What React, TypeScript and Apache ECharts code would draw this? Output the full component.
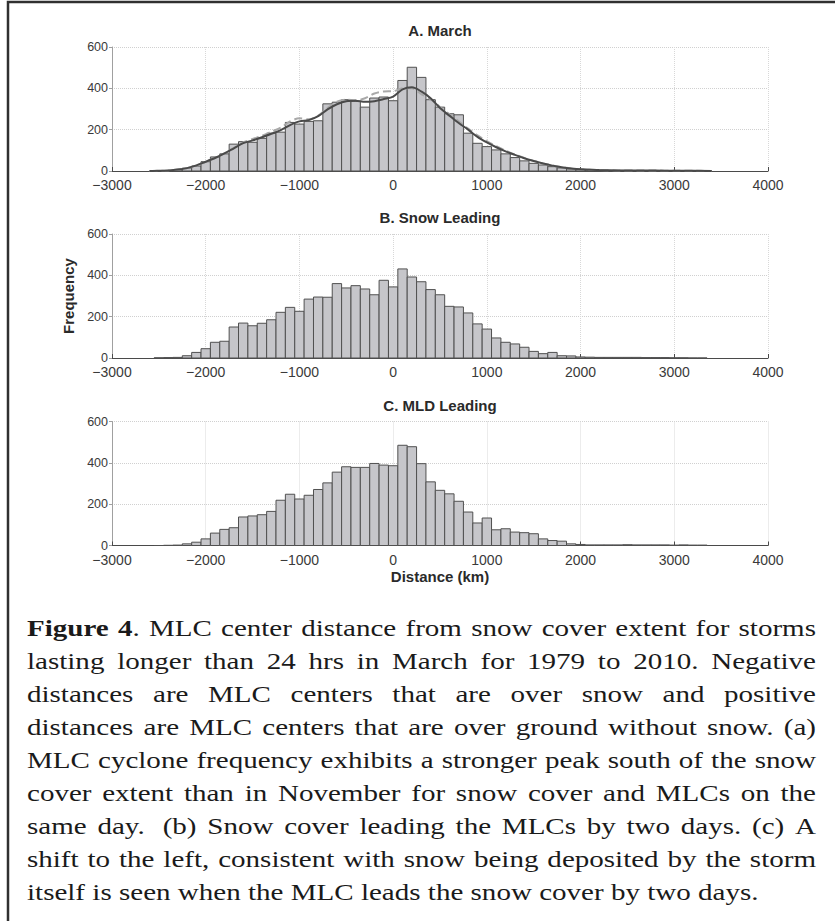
import React, { useEffect, useRef } from "react";
import * as echarts from "echarts";

// ---------- data ----------
const binWidth = 100;
const binCenters = [
  -2500, -2400, -2300, -2200, -2100, -2000, -1900, -1800, -1700, -1600,
  -1500, -1400, -1300, -1200, -1100, -1000, -900, -800, -700, -600,
  -500, -400, -300, -200, -100, 0, 100, 200, 300, 400,
  500, 600, 700, 800, 900, 1000, 1100, 1200, 1300, 1400,
  1500, 1600, 1700, 1800, 1900, 2000, 2100, 2200, 2300, 2400,
  2500, 2600, 2700, 2800, 2900, 3000, 3100, 3200, 3300,
];
const marchCounts = [
  1, 2, 5, 14, 24, 45, 68, 83, 130, 142,
  139, 158, 183, 188, 235, 227, 240, 243, 325, 333,
  345, 337, 309, 353, 358, 340, 438, 502, 453, 345,
  309, 277, 272, 183, 134, 118, 102, 83, 65, 49,
  37, 29, 21, 15, 10, 6, 5, 4, 3, 3,
  3, 2, 2, 2, 1, 1, 1, 0, 0,
];
const snowLeadingCounts = [
  1, 2, 3, 11, 27, 45, 76, 81, 150, 169,
  156, 168, 185, 221, 245, 226, 285, 295, 294, 360,
  339, 350, 334, 306, 376, 344, 431, 392, 369, 331,
  306, 250, 247, 218, 165, 140, 97, 76, 68, 52,
  32, 21, 27, 11, 10, 5, 4, 3, 3, 3,
  3, 3, 2, 2, 2, 1, 1, 0, 0,
];
const mldLeadingCounts = [
  0, 1, 2, 8, 16, 32, 60, 78, 86, 138,
  143, 149, 165, 219, 248, 225, 243, 271, 303, 355,
  381, 378, 378, 397, 389, 386, 485, 478, 396, 308,
  267, 250, 214, 162, 109, 133, 76, 81, 65, 62,
  57, 32, 24, 21, 8, 5, 3, 3, 3, 3,
  4, 3, 3, 3, 3, 2, 3, 2, 2,
];
const fitX = [
  -2600, -2500, -2400, -2300, -2200, -2100, -2000, -1900, -1800, -1700,
  -1600, -1500, -1400, -1300, -1200, -1100, -1000, -900, -800, -700,
  -600, -500, -400, -300, -200, -100, 0, 100, 200, 300,
  400, 500, 600, 700, 800, 900, 1000, 1100, 1200, 1300,
  1400, 1500, 1600, 1700, 1800, 1900, 2000, 2200, 2400, 2600,
  2800, 3000, 3200, 3400,
];
const fitSolid = [
  0, 1, 3, 7, 14, 27, 45, 63, 85, 110,
  135, 148, 163, 180, 198, 222, 240, 246, 265, 298,
  323, 338, 340, 335, 338, 348, 360, 395, 405, 385,
  352, 305, 268, 232, 200, 165, 138, 115, 95, 78,
  62, 48, 36, 26, 18, 12, 8, 5, 3, 2,
  2, 1, 1, 0,
];
const fitDashed = [
  0, 1, 3, 7, 14, 27, 45, 63, 85, 112,
  138, 155, 170, 190, 210, 240, 255, 250, 268, 305,
  335, 345, 342, 352, 375, 385, 386, 400, 400, 372,
  348, 310, 275, 240, 205, 172, 145, 120, 98, 80,
  63, 49, 37, 27, 19, 12, 8, 5, 3, 2,
  2, 1, 1, 0,
];
const panelTitles = ["A. March", "B. Snow Leading", "C. MLD Leading"];
const yLabel = "Frequency";
const xLabel = "Distance (km)";
const captionLines: { t: string; b?: boolean; join?: boolean }[][] = [
  [{ t: "Figure", b: true }, { t: "4", b: true }, { t: ".", join: true }, { t: "MLC" }, { t: "center" }, { t: "distance" }, { t: "from" }, { t: "snow" }, { t: "cover" }, { t: "extent" }, { t: "for" }, { t: "storms" }],
  "lasting longer than 24 hrs in March for 1979 to 2010. Negative".split(" ").map((t) => ({ t })),
  "distances are MLC centers that are over snow and positive".split(" ").map((t) => ({ t })),
  "distances are MLC centers that are over ground without snow. (a)".split(" ").map((t) => ({ t })),
  "MLC cyclone frequency exhibits a stronger peak south of the snow".split(" ").map((t) => ({ t })),
  "cover extent than in November for snow cover and MLCs on the".split(" ").map((t) => ({ t })),
  "same day.\u00a0 (b) Snow cover leading the MLCs by two days. (c) A".split(" ").map((t) => ({ t })),
  "shift to the left, consistent with snow being deposited by the storm".split(" ").map((t) => ({ t })),
  "itself is seen when the MLC leads the snow cover by two days.".split(" ").map((t) => ({ t })),
];

// ---------- layout ----------
const W = 835;
const H = 921;
const gridLeft = 112;
const gridWidth = 656;
const gridTops = [47, 234, 421.5];
const gridHeight = 124;
const sansFont = "Liberation Sans";
const serifFont = "Liberation Serif";

function buildCaption() {
  const fontSize = 24;
  const scaleX = 1.21;
  const left = 27;
  const right = 816;
  const baseline0 = 636;
  const lineStep = 33;
  const canvas = document.createElement("canvas");
  const ctx = canvas.getContext("2d")!;
  const measure = (t: string, b?: boolean) => {
    ctx.font = `${b ? "bold " : ""}${fontSize}px "Liberation Serif"`;
    return ctx.measureText(t).width * scaleX;
  };
  const spaceW = measure(" ");
  const els: any[] = [];
  captionLines.forEach((segs, li) => {
    const words: { segs: { t: string; b?: boolean; w: number }[]; w: number }[] = [];
    segs.forEach((s) => {
      const w = measure(s.t, s.b);
      if (s.join && words.length) {
        const last = words[words.length - 1];
        last.segs.push({ t: s.t, b: s.b, w });
        last.w += w;
      } else {
        words.push({ segs: [{ t: s.t, b: s.b, w }], w });
      }
    });
    const total = words.reduce((a, w) => a + w.w, 0);
    const isLast = li === captionLines.length - 1;
    const gap = isLast ? spaceW : (right - left - total) / (words.length - 1);
    let x = left;
    const y = baseline0 + li * lineStep - 8;
    words.forEach((wd) => {
      let sx = x;
      wd.segs.forEach((s) => {
        els.push({
          type: "text",
          x: sx,
          y,
          scaleX,
          silent: true,
          style: {
            text: s.t,
            fontSize,
            fontFamily: serifFont,
            fontWeight: s.b ? "bold" : "normal",
            fill: "#1a1a1a",
            textAlign: "left",
            textVerticalAlign: "middle",
          },
        });
        sx += s.w;
      });
      x += wd.w + gap;
    });
  });
  return els;
}

export default function App() {
  const ref = useRef<HTMLDivElement>(null);
  useEffect(() => {
    document.body.style.margin = "0";
    if (!ref.current) return;
    const chart = echarts.init(ref.current, undefined, { renderer: "svg" });
    const panels = [marchCounts, snowLeadingCounts, mldLeadingCounts];

    const grids = gridTops.map((top) => ({ left: gridLeft, top, width: gridWidth, height: gridHeight }));
    const xAxes = gridTops.map((_, i) => ({
      type: "value",
      gridIndex: i,
      min: -3000,
      max: 4000,
      interval: 1000,
      axisLine: { show: true, onZero: false, lineStyle: { color: "#4a4a4a", width: 1.2 } },
      axisTick: { show: true, inside: true, length: 4, lineStyle: { color: "#4a4a4a" } },
      axisLabel: {
        color: "#3a3a3a",
        fontSize: 14,
        fontFamily: sansFont,
        margin: 7,
        formatter: (v: number) => (v < 0 ? "\u2212" + Math.abs(v) : String(v)),
      },
      splitLine: { show: true, lineStyle: { color: "#d8d8d8", type: "dotted" } },
    }));
    const yAxes = gridTops.map((_, i) => ({
      type: "value",
      gridIndex: i,
      min: 0,
      max: 600,
      interval: 200,
      axisLine: { show: true, onZero: false, lineStyle: { color: "#a0a0a0", width: 1 } },
      axisTick: { show: true, inside: false, length: 3, lineStyle: { color: "#a0a0a0" } },
      axisLabel: { color: "#3a3a3a", fontSize: 12.5, fontFamily: sansFont, margin: 4 },
      splitLine: { show: true, lineStyle: { color: "#d0d0d0", type: "dotted" } },
    }));

    const series: any[] = panels.map((counts, i) => ({
      type: "custom",
      xAxisIndex: i,
      yAxisIndex: i,
      data: binCenters.map((c, k) => [c, counts[k]]),
      encode: { x: 0, y: 1 },
      renderItem: (_p: any, api: any) => {
        const c = api.value(0);
        const v = api.value(1);
        const tl = api.coord([c - binWidth / 2, v]);
        const br = api.coord([c + binWidth / 2, 0]);
        return {
          type: "rect",
          shape: { x: tl[0], y: tl[1], width: br[0] - tl[0], height: br[1] - tl[1] },
          style: { fill: "#c6c6ca", stroke: "#505050", lineWidth: 1 },
        };
      },
      z: 2,
    }));
    series.push({
      type: "line",
      xAxisIndex: 0,
      yAxisIndex: 0,
      data: fitX.map((x, k) => [x, fitDashed[k]]),
      showSymbol: false,
      smooth: 0.3,
      lineStyle: { color: "#a9a9a9", width: 2, type: "dashed" },
      z: 3,
    });
    series.push({
      type: "line",
      xAxisIndex: 0,
      yAxisIndex: 0,
      data: fitX.map((x, k) => [x, fitSolid[k]]),
      showSymbol: false,
      smooth: 0.3,
      lineStyle: { color: "#4a4a4a", width: 2 },
      z: 4,
    });

    const titleY = [30, 217, 405];
    const graphic: any[] = [
      {
        type: "rect",
        silent: true,
        shape: { x: 8, y: 2, width: 900, height: 1000 },
        style: { fill: "none", stroke: "#303030", lineWidth: 2.5 },
      },
      ...panelTitles.map((t, i) => ({
        type: "text",
        x: gridLeft + gridWidth / 2,
        y: titleY[i],
        silent: true,
        style: {
          text: t,
          fontSize: 15,
          fontWeight: "bold",
          fontFamily: sansFont,
          fill: "#2a2a2a",
          textAlign: "center",
          textVerticalAlign: "middle",
        },
      })),
      {
        type: "text",
        x: 68,
        y: gridTops[1] + gridHeight / 2,
        rotation: Math.PI / 2,
        silent: true,
        style: {
          text: yLabel,
          fontSize: 15,
          fontWeight: "bold",
          fontFamily: sansFont,
          fill: "#2a2a2a",
          textAlign: "center",
          textVerticalAlign: "middle",
        },
      },
      {
        type: "text",
        x: gridLeft + gridWidth / 2,
        y: 576,
        silent: true,
        style: {
          text: xLabel,
          fontSize: 15,
          fontWeight: "bold",
          fontFamily: sansFont,
          fill: "#2a2a2a",
          textAlign: "center",
          textVerticalAlign: "middle",
        },
      },
      ...buildCaption(),
    ];

    chart.setOption({
      animation: false,
      backgroundColor: "#ffffff",
      grid: grids,
      xAxis: xAxes,
      yAxis: yAxes,
      series,
      graphic,
    });
    return () => chart.dispose();
  }, []);
  return <div ref={ref} style={{ width: W, height: H }} />;
}
